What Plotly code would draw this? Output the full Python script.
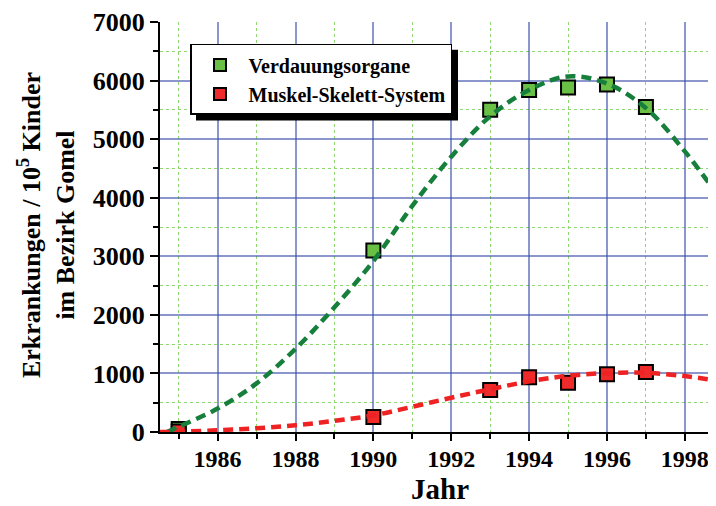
import plotly.graph_objects as go

# Messpunkte
years = [1985, 1990, 1993, 1994, 1995, 1996, 1997]
verdauung = [50, 3100, 5500, 5840, 5880, 5935, 5550]
muskel = [10, 255, 715, 935, 840, 985, 1025]

# Angepasste Kurven
fit_years = [1984.7, 1985, 1986, 1987, 1988, 1989, 1990, 1991, 1992, 1993,
             1994, 1995, 1996, 1997, 1998, 1998.8]
fit_verdauung = [0, 90, 400, 830, 1420, 2130, 2920, 3860, 4700, 5390,
                 5840, 6070, 5950, 5530, 4790, 4080]
fit_years_m = [1984.5, 1985, 1986, 1987, 1988, 1989, 1990, 1991, 1992, 1993,
               1994, 1995, 1996, 1997, 1998, 1998.8]
fit_muskel = [0, 5, 30, 65, 115, 190, 285, 430, 585, 730,
              865, 960, 1005, 1010, 955, 880]

FONT = "Liberation Serif"
GREEN_FILL = "#6abf45"
RED_FILL = "#ee2a2a"
GREEN_LINE = "#157f3b"
RED_LINE = "#ee2222"

# Seite hat 8px Rand -> Abbildung etwas kleiner
W, H = 708, 498
L, T, B = 152, 12, 74
PW, PH = W - L, H - T - B


def px(x):
    return (x - 8 - L) / PW


def py(y):
    return (H - B - (y - 8)) / PH


fig = go.Figure()

fig.add_trace(go.Scatter(
    x=years, y=verdauung, mode="markers", name="Verdauungsorgane",
    marker=dict(symbol="square", size=14, color=GREEN_FILL,
                line=dict(color="black", width=2)),
))
fig.add_trace(go.Scatter(
    x=years, y=muskel, mode="markers", name="Muskel-Skelett-System",
    marker=dict(symbol="square", size=14, color=RED_FILL,
                line=dict(color="black", width=2)),
))
fig.add_trace(go.Scatter(
    x=fit_years, y=fit_verdauung, mode="lines", showlegend=False,
    line=dict(color=GREEN_LINE, width=4.5, dash="10px,6px", shape="spline"),
    hoverinfo="skip",
))
fig.add_trace(go.Scatter(
    x=fit_years_m, y=fit_muskel, mode="lines", showlegend=False,
    line=dict(color=RED_LINE, width=4.5, dash="10px,6px", shape="spline"),
    hoverinfo="skip",
))

# Schatten der Legende
fig.add_shape(type="rect", xref="paper", yref="paper",
              x0=px(196), x1=px(458), y0=py(119), y1=py(48),
              fillcolor="black", line=dict(width=0), layer="above")

fig.update_layout(
    width=W, height=H,
    margin=dict(l=L, r=0, t=T, b=B),
    paper_bgcolor="white", plot_bgcolor="white",
    font=dict(family=FONT, color="black"),
    showlegend=True,
    legend=dict(
        x=px(190), y=py(42), xanchor="left", yanchor="top",
        bgcolor="white", bordercolor="black", borderwidth=1.5,
        font=dict(family=FONT, size=20, color="black", weight="bold"),
        tracegroupgap=0, itemsizing="constant", itemwidth=47,
    ),
    xaxis=dict(
        range=[1984.52, 1998.8], tickmode="linear", tick0=1986, dtick=2,
        showline=True, linecolor="black", linewidth=2,
        ticks="outside", ticklen=7, tickwidth=2, tickcolor="black",
        showgrid=True, gridcolor="rgba(60,80,170,0.6)", gridwidth=1.5,
        zeroline=False, ticklabeloverflow="allow", ticklabelstandoff=-3,
        tickfont=dict(family=FONT, size=24, weight="bold"),
        minor=dict(tick0=1985, dtick=1, ticks="outside", ticklen=5, tickwidth=1.5,
                   tickcolor="black", showgrid=True, gridcolor="#8fd870",
                   griddash="dot", gridwidth=1),
    ),
    yaxis=dict(
        range=[0, 7000], tickmode="linear", tick0=0, dtick=1000,
        showline=True, linecolor="black", linewidth=2,
        ticks="outside", ticklen=8, tickwidth=2, tickcolor="black",
        showgrid=True, gridcolor="rgba(60,80,170,0.6)", gridwidth=1.5,
        zeroline=False, ticklabeloverflow="allow",
        tickfont=dict(family=FONT, size=26, weight="bold"),
        minor=dict(tick0=0, dtick=500, ticks="outside", ticklen=5, tickwidth=1.5,
                   tickcolor="black", showgrid=True, gridcolor="#8fd870",
                   griddash="dot", gridwidth=1),
    ),
    annotations=[
        dict(
            text="Erkrankungen / 10<sup>5</sup> Kinder<br>im Bezirk Gomel",
            xref="paper", yref="paper", x=px(46), y=py(224),
            xanchor="center", yanchor="middle", textangle=-90, showarrow=False,
            font=dict(family=FONT, size=26, weight="bold", color="black"),
        ),
        dict(
            text="Jahr", xref="paper", yref="paper", x=px(440), y=py(506),
            xanchor="center", yanchor="bottom", showarrow=False, borderpad=0,
            font=dict(family=FONT, size=29, weight="bold", color="black"),
        ),
    ],
)

fig.write_html("out.html")
